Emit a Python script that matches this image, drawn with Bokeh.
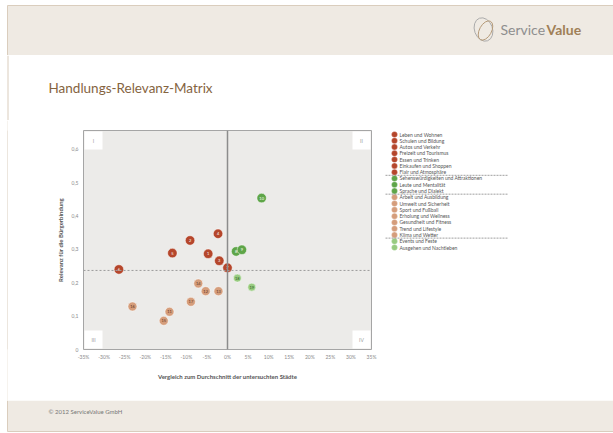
from bokeh.plotting import figure
from bokeh.models import Range1d, FixedTicker, Span
from bokeh.layouts import column, row
from bokeh.core.properties import value
from bokeh.embed import file_html
from bokeh.resources import INLINE

# ---------------- data ----------------
categories = [
    "Leben und Wohnen", "Schulen und Bildung", "Autos und Verkehr",
    "Freizeit und Tourismus", "Essen und Trinken", "Einkaufen und Shoppen",
    "Flair und Atmosphäre",
    "Sehenswürdigkeiten und Attraktionen", "Leute und Mentalität", "Sprache und Dialekt",
    "Arbeit und Ausbildung", "Umwelt und Sicherheit", "Sport und Fußball",
    "Erholung und Wellness", "Gesundheit und Fitness", "Trend und Lifestyle",
    "Klima und Wetter",
    "Events und Feste", "Ausgehen und Nachtleben",
]
group = [0] * 7 + [1] * 3 + [2] * 7 + [3] * 2
# Vergleich zum Durchschnitt (in %)
x_vals = [-4.7, -9.1, -2.0, -2.3, -13.4, -26.4, 0.0,
          2.1, 3.5, 8.3,
          -14.1, -5.3, -2.2, -7.1, -15.5, -23.1, -8.9,
          2.4, 5.9]
# Relevanz für die Bürgerbindung
y_vals = [0.287, 0.327, 0.266, 0.347, 0.289, 0.240, 0.245,
          0.294, 0.299, 0.454,
          0.113, 0.175, 0.175, 0.198, 0.086, 0.129, 0.143,
          0.214, 0.187]
mean_relevance = 0.237

x_ticks = [-35, -30, -25, -20, -15, -10, -5, 0, 5, 10, 15, 20, 25, 30, 35]
x_tick_labels = ["-35%", "-30%", "-25%", "-20%", "-15%", "-10%", "-5%", "0%",
                 "5%", "10%", "15%", "20%", "25%", "30%", "35%"]
y_ticks = [0, 0.1, 0.2, 0.3, 0.4, 0.5, 0.6]
y_tick_labels = ["0", "0,1", "0,2", "0,3", "0,4", "0,5", "0,6"]
quadrants = ["I", "II", "III", "IV"]

fill_cols = ["#b5462b", "#5ea548", "#d59d7b", "#98cb80"]
text_cols = ["#ffffff", "#ffffff", "#5b3420", "#2d5a1f"]
sizes = [9.5, 9.5, 9, 8]

FONT = value("Lato")
BAND = "#efeae3"
EDGE = "#dacdbd"
W = 613
ROW_H = 280
B_TOP, B_BOT = 10, 51   # chart frame borders inside the middle row


def blank(w, h, bg="white", top=0, bottom=0, yr=None):
    f = figure(width=w, height=h, output_backend="svg", toolbar_location=None,
               x_range=Range1d(0, w), y_range=yr if yr is not None else Range1d(h, 0),
               x_axis_location=None, y_axis_location=None,
               min_border_left=0, min_border_right=0, min_border_top=top,
               min_border_bottom=bottom)
    f.grid.visible = False
    f.outline_line_color = None
    f.background_fill_color = bg
    f.border_fill_color = bg
    return f


# ---------------- header ----------------
hdr = blank(W, 55)
hdr.quad(left=[7], right=[W], top=[5], bottom=[55], fill_color=BAND, line_color=None)
hdr.multi_line([[7, W], [7, 7]], [[5, 5], [5, 55]], line_color=EDGE, line_width=1)
hdr.ellipse(x=[483], y=[29], width=[18], height=[24], angle=[0.35], fill_color=None,
            line_color="#ababab", line_width=1)
hdr.ellipse(x=[485], y=[30], width=[12], height=[21], angle=[-0.5], fill_color=None,
            line_color="#b59a78", line_width=1)
hdr.text(x=[500], y=[29], text=["Service"], text_font=FONT, text_font_size="14px",
         text_color="#8e8e8e", text_baseline="middle")
hdr.text(x=[546], y=[29], text=["Value"], text_font=FONT, text_font_size="14px",
         text_font_style="bold", text_color="#a07f57", text_baseline="middle")

# ---------------- title ----------------
ttl = blank(W, 65)
ttl.line([7.5, 7.5], [0, 65], line_color=EDGE, line_width=1)
ttl.text(x=[48], y=[32], text=["Handlungs-Relevanz-Matrix"], text_font=FONT,
         text_font_size="13.5px", text_color="#85643f", text_baseline="middle")

# ---------------- left slide edge in the chart row ----------------
pad = blank(7, ROW_H, "white", B_TOP, B_BOT)
edge = blank(1, ROW_H, EDGE, B_TOP, B_BOT)

# ---------------- chart ----------------
x0, x1 = -35, 35
y0, y1 = 0, 0.6566
p = figure(width=372, height=ROW_H, x_range=Range1d(x0, x1), y_range=Range1d(y0, y1),
           min_border_left=75, min_border_right=9, min_border_top=B_TOP,
           min_border_bottom=B_BOT, output_backend="svg", toolbar_location=None)
p.background_fill_color = "#ecebe9"
p.border_fill_color = "white"
p.outline_line_color = "#a5a5a5"
p.outline_line_width = 1
p.grid.visible = False

# quadrant marker boxes
fw, fh = 288.0, 219.0
dx = 10 * (x1 - x0) / fw
dy = 10 * (y1 - y0) / fh
qx = [x0 + dx, x1 - dx, x0 + dx, x1 - dx]
qy = [y1 - dy, y1 - dy, y0 + dy, y0 + dy]
p.rect(x=qx, y=qy, width=18, height=18, width_units="screen", height_units="screen",
       fill_color="white", line_color=None)
p.text(x=qx, y=qy, text=quadrants, text_font=FONT, text_font_size="5px",
       text_color="#9a9a9a", text_align="center", text_baseline="middle")

p.add_layout(Span(location=0, dimension="height", line_color="#8c8c8c", line_width=1.5))
p.add_layout(Span(location=mean_relevance, dimension="width", line_color="#9c9c9c",
                  line_width=1, line_dash="2 2"))

for g in range(4):
    idx = [i for i in range(len(categories)) if group[i] == g]
    xs = [x_vals[i] for i in idx]
    ys = [y_vals[i] for i in idx]
    labs = [str(i + 1) for i in idx]
    p.scatter(xs, ys, size=sizes[g], fill_color=fill_cols[g], line_color="white",
              line_alpha=0.6, line_width=0.8)
    p.text(xs, ys, text=labs, text_font=FONT, text_font_size="4px",
           text_color=text_cols[g], text_align="center", text_baseline="middle")

for ax in (p.xaxis[0], p.yaxis[0]):
    ax.axis_line_color = None
    ax.major_tick_line_color = None
    ax.minor_tick_line_color = None
    ax.major_tick_out = 0
    ax.major_tick_in = 0
    ax.minor_tick_out = 0
    ax.minor_tick_in = 0
    ax.major_label_text_font = "Lato"
    ax.major_label_text_font_size = "5px"
    ax.major_label_text_color = "#8a8a8a"
    ax.axis_label_text_font = "Lato"
    ax.axis_label_text_font_size = "6px"
    ax.axis_label_text_font_style = "bold"
    ax.axis_label_text_color = "#555555"

p.xaxis.ticker = FixedTicker(ticks=x_ticks)
p.xaxis.major_label_overrides = dict(zip(x_ticks, x_tick_labels))
p.xaxis.major_label_standoff = 4
p.xaxis.axis_label = "Vergleich zum Durchschnitt der untersuchten Städte"
p.xaxis.axis_label_standoff = 10

p.yaxis.ticker = FixedTicker(ticks=y_ticks)
p.yaxis.major_label_overrides = dict(zip(y_ticks, y_tick_labels))
p.yaxis.major_label_standoff = 5
p.yaxis.axis_label = "Relevanz für die Bürgerbindung"
p.yaxis.axis_label_standoff = 5

# ---------------- legend (frame spans page y 130..349) ----------------
leg = blank(233, ROW_H, "white", B_TOP, B_BOT, yr=Range1d(349, 130))
row_h = 6.28
ly = [134 + i * row_h for i in range(len(categories))]
for g in range(4):
    idx = [i for i in range(len(categories)) if group[i] == g]
    leg.scatter([14] * len(idx), [ly[i] for i in idx], size=6, fill_color=fill_cols[g],
                line_color="white", line_alpha=0.6, line_width=0.5)
leg.text([19] * len(categories), ly, text=categories, text_font=FONT,
         text_font_size="5px", text_color="#555555", text_baseline="middle")
breaks = [i for i in range(1, len(categories)) if group[i] != group[i - 1]]
sep_y = [(ly[i - 1] + ly[i]) / 2 for i in breaks]
leg.multi_line([[5, 128]] * len(sep_y), [[y, y] for y in sep_y], line_color="#777777",
               line_width=0.7, line_dash="2 1")

# ---------------- footer ----------------
ftr = blank(W, 33)
ftr.quad(left=[7], right=[W], top=[0], bottom=[31], fill_color=BAND, line_color=None)
ftr.multi_line([[7, W], [7, 7]], [[31, 31], [0, 31]], line_color=EDGE, line_width=1)
ftr.text(x=[48], y=[11], text=["© 2012 ServiceValue GmbH"], text_font=FONT,
         text_font_size="6px", text_color="#777777", text_baseline="middle")

layout = column(hdr, ttl, row(pad, edge, p, leg), ftr)

open("out.html", "w").write(file_html(layout, INLINE))
